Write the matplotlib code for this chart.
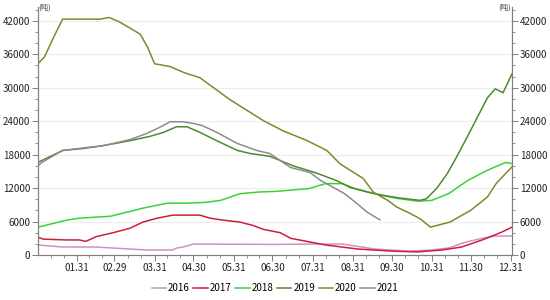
import matplotlib
matplotlib.use("Agg")
import matplotlib.pyplot as plt
from matplotlib.ticker import MultipleLocator, FixedLocator

plt.rcParams['font.family'] = ['Noto Sans CJK SC', 'DejaVu Sans']

# ---------------------------------------------------------
# データ（x = 1/1 からの日数, y = 在庫量）
# ---------------------------------------------------------
d2016 = [0, 19, 45, 71, 84, 104, 107, 112, 120, 185, 209, 235, 260, 286, 304, 317, 330, 343, 353, 366]
v2016 = [1800, 1430, 1430, 1070, 900, 900, 1250, 1430, 1960, 1900, 1960, 1960, 1070, 700, 900, 1250, 2300, 3000, 3400, 3400]

d2017 = [0, 4, 22, 32, 37, 45, 58, 71, 81, 92, 104, 125, 133, 143, 156, 166, 174, 187, 195, 204, 222, 247, 273, 293, 312, 327, 343, 358, 366]
v2017 = [3200, 2850, 2700, 2700, 2450, 3300, 4000, 4800, 5900, 6600, 7150, 7150, 6600, 6250, 5900, 5300, 4600, 4000, 3000, 2600, 1800, 1070, 700, 550, 900, 1430, 2700, 4100, 5000]

d2018 = [0, 9, 22, 32, 45, 56, 69, 81, 100, 115, 130, 141, 156, 171, 183, 209, 222, 235, 245, 260, 276, 293, 304, 317, 332, 347, 361, 366]
v2018 = [5000, 5500, 6250, 6600, 6800, 6950, 7700, 8400, 9300, 9300, 9450, 9800, 11000, 11300, 11400, 11900, 12800, 12800, 11900, 11000, 10200, 9650, 9800, 11000, 13400, 15200, 16600, 16400]

d2019 = [0, 19, 35, 50, 71, 86, 97, 107, 115, 125, 138, 154, 164, 179, 197, 215, 231, 241, 256, 266, 280, 295, 300, 308, 316, 323, 331, 339, 347, 353, 359, 366]
v2019 = [16600, 18750, 19100, 19600, 20500, 21250, 22000, 23000, 23000, 22000, 20500, 18750, 18200, 17700, 16000, 14700, 13300, 12100, 11200, 10700, 10200, 9800, 10100, 12000, 14600, 17500, 21000, 24600, 28200, 29800, 29100, 32500]

d2020 = [0, 5, 12, 19, 48, 55, 63, 79, 85, 90, 102, 113, 125, 148, 174, 189, 208, 223, 233, 241, 251, 259, 270, 277, 287, 295, 303, 318, 334, 347, 354, 366]
v2020 = [34300, 35500, 39000, 42300, 42300, 42600, 41800, 39600, 37100, 34300, 33800, 32700, 31800, 27900, 24100, 22300, 20500, 18750, 16400, 15200, 13750, 11250, 9800, 8600, 7500, 6500, 5000, 5900, 8000, 10400, 12900, 15800]

d2021 = [0, 3, 19, 35, 50, 58, 71, 84, 94, 102, 112, 120, 127, 138, 154, 169, 179, 195, 210, 218, 236, 246, 254, 264]
v2021 = [16000, 16600, 18750, 19200, 19600, 20000, 20700, 21800, 22900, 23900, 23900, 23600, 23200, 22000, 20000, 18750, 18200, 15700, 14800, 13400, 11100, 9300, 7700, 6300]

TICK_DAYS = [30, 59, 90, 120, 151, 181, 212, 243, 273, 304, 334, 365]
TICK_LABELS = ["01.31", "02.29", "03.31", "04.30", "05.31", "06.30",
               "07.31", "08.31", "09.30", "10.31", "11.30", "12.31"]

SERIES = [
    ("2016", d2016, v2016, "#d38fc4"),
    ("2017", d2017, v2017, "#cc1f3a"),
    ("2018", d2018, v2018, "#3ad23a"),
    ("2019", d2019, v2019, "#4f8a2e"),
    ("2020", d2020, v2020, "#85862a"),
    ("2021", d2021, v2021, "#8c8c8c"),
]

AXIS_COLOR = "#808080"


def main():
    fig = plt.figure(figsize=(5.5, 3.0), dpi=100)
    ax = fig.add_axes([0.069, 0.15, 0.862, 0.827])

    for name, d, v, c in SERIES:
        ax.plot(d, v, color=c, lw=1.1, label=name)

    ax.set_xlim(0, 366)
    ax.set_ylim(0, 44500)

    ax.xaxis.set_major_locator(FixedLocator(TICK_DAYS))
    ax.set_xticklabels(TICK_LABELS)
    minor = []
    prev = 0
    for t in TICK_DAYS:
        minor += [prev + (t - prev) / 3, prev + 2 * (t - prev) / 3]
        prev = t
    ax.xaxis.set_minor_locator(FixedLocator(minor))
    ax.yaxis.set_major_locator(MultipleLocator(6000))
    ax.yaxis.set_minor_locator(MultipleLocator(2000))
    ax.grid(axis="y", which="major", color="#ececec", lw=0.8)
    ax.set_axisbelow(True)

    ax2 = ax.twinx()
    ax2.set_ylim(ax.get_ylim())
    ax2.yaxis.set_major_locator(MultipleLocator(6000))
    ax2.yaxis.set_minor_locator(MultipleLocator(2000))

    for a in (ax, ax2):
        a.spines["top"].set_visible(False)
        for s in ("left", "right", "bottom"):
            a.spines[s].set_color(AXIS_COLOR)
            a.spines[s].set_linewidth(0.8)
        a.tick_params(which="major", length=4, width=0.7, color=AXIS_COLOR,
                      labelsize=7, labelcolor="#222222", pad=1.5)
        a.tick_params(which="minor", length=2, width=0.6, color=AXIS_COLOR)

    fig.text(0.069, 0.975, "(吨)", fontsize=5.5, color="#444444", ha="left", va="center")
    fig.text(0.929, 0.975, "(吨)", fontsize=5.5, color="#444444", ha="right", va="center")

    ax.legend(loc="center", bbox_to_anchor=(0.5, 0.04), bbox_transform=fig.transFigure,
              ncol=6, frameon=False, fontsize=7, handlelength=1.5, handletextpad=0.2,
              columnspacing=0.35)

    fig.savefig("out.png", dpi=100)
    plt.close(fig)


if __name__ == "__main__":
    main()
